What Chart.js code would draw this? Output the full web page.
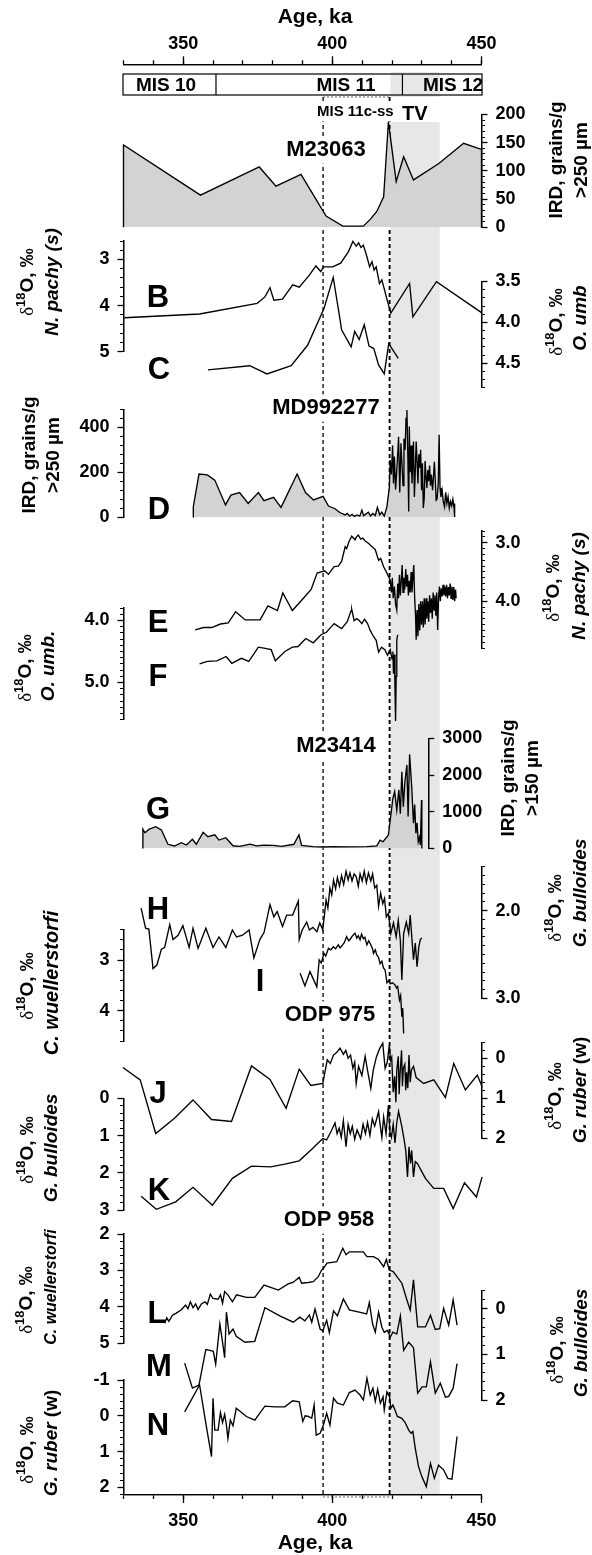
<!DOCTYPE html>
<html>
<head>
<meta charset="utf-8">
<script src="https://cdn.jsdelivr.net/npm/chart.js@4.4.1/dist/chart.umd.min.js"></script>
<style>
  html, body { margin: 0; padding: 0; background: #fff; }
  #fig { position: relative; width: 592px; height: 1555px; overflow: hidden; }
  #fig canvas { position: absolute; left: 0; }
</style>
</head>
<body>
<div id="fig"></div>
<script>
// ---- figure layout ----
const FONT = '"Liberation Sans", Arial, Helvetica, sans-serif';
const AGE_MIN = 330, AGE_MAX = 450;
const X_LEFT = 123.5, X_RIGHT = 481.5;

// age axis + stage markers
const ageTicks = [350, 400, 450];
const ageMinor = [330, 340, 350, 360, 370, 380, 390, 400, 410, 420, 430, 440, 450];
const misBounds = [330, 361, 423.5, 450];
const misNames = ['MIS 10', 'MIS 11', 'MIS 12'];
const ssLines = [396.9, 419.2];       // MIS 11c-ss dashed lines
const tvBand = [419.5, 436];          // TV shading

// ---- data, [age ka, value] ----
// A  M23063 IRD >250 µm
const aData = [[330,0],[330,146],[355.8,57],[375.5,107],[381.1,73],[389.5,94],[397.9,20],[403.5,2],[410.4,2],[412.7,14],[414.9,28],[417.2,54],[418.8,187],[421.4,81],[423.9,125],[427.2,84],[435.7,113],[444,149],[450,138],[450,0]];
// B  M23063 d18O N. pachy (s)
const bData = [[330.3,4.26],[355.5,4.18],[374.8,3.95],[377.4,3.81],[379.1,3.61],[380.4,3.88],[383.3,3.86],[386.7,3.55],[388.9,3.60],[392.3,3.34],[394.5,3.14],[396.1,3.26],[397,3.16],[400.1,3.16],[402.8,3.08],[405.4,2.83],[406.9,2.61],[408,2.71],[408.8,2.64],[409.6,2.74],[410.4,2.69],[411.6,2.94],[412.5,3.16],[413.3,3.05],[414,3.23],[414.7,3.16],[415.8,3.52],[416.6,3.44],[418.1,3.81],[419.6,4.16],[425.9,3.52],[427,4.24],[434.9,3.48],[450,4.15]];
// C  M23063 d18O O. umb
const cData = [[358.3,4.58],[372.3,4.53],[378.1,4.63],[386.2,4.53],[391.7,4.28],[397.2,3.83],[400.3,3.45],[402.6,3.97],[403.1,4.09],[406.3,4.30],[407.5,4.11],[409,4.21],[410.7,4.03],[412.3,4.29],[413.9,4.32],[415.5,4.52],[417.4,4.63],[418.9,4.26],[422.1,4.44]];
// D  MD992277 IRD >250 µm
const dData = [[353.3,0],[353.4,46],[355.3,192],[358.1,188],[360.6,165],[364.2,54],[366,98],[368.9,109],[371.8,61],[375.2,109],[377.1,73],[380.3,88],[382.8,43],[388.2,192],[391,109],[393.7,76],[396.9,92],[398.7,49],[400.9,37],[402.5,20],[404.3,9],[405,16],[405.8,4],[406.6,12],[407.4,3],[408.3,9],[409.2,4],[409.9,31],[410.5,6],[411.3,14],[412.1,21],[412.8,5],[413.6,16],[414.4,7],[415.1,43],[415.9,10],[416.6,22],[417.4,4],[418.3,46],[419.1,130],[419.4,255],[419.8,190],[420.2,320],[420.5,150],[420.8,270],[421.2,123],[421.6,210],[422,300],[422.2,359],[422.6,110],[423,330],[423.3,250],[423.7,140],[424,350],[424.4,300],[424.7,441],[425,478],[425.3,280],[425.6,25],[425.8,404],[426.1,200],[426.4,320],[426.7,150],[427,260],[427.2,337],[427.5,90],[427.8,200],[428.1,337],[428.4,250],[428.7,150],[429,280],[429.3,220],[429.6,300],[429.9,120],[430.2,240],[430.5,40],[430.8,84],[431.1,250],[431.4,180],[431.7,130],[432,210],[432.3,160],[432.6,230],[432.9,140],[433.2,190],[433.6,120],[434,200],[434.2,247],[434.5,170],[434.8,75],[435.1,80],[435.5,150],[435.8,367],[436.1,130],[436.4,90],[436.8,120],[437.2,70],[437.6,46],[438,110],[438.4,60],[438.8,90],[439.2,40],[439.6,70],[440,50],[440.4,80],[440.8,40],[441,60],[441,0]];
// E  MD992277 d18O N. pachy (s)
const eData = [[354,4.49],[356.8,4.45],[359.6,4.45],[362.5,4.39],[365.1,4.37],[367.6,4.18],[370.8,4.32],[375.8,4.32],[378.4,4.08],[381.6,4.16],[383.4,3.86],[386.6,4.16],[389.8,3.98],[392.9,3.80],[394.9,3.52],[397.4,3.48],[398.7,3.54],[400.6,3.41],[402,3.40],[403.1,3.32],[404.3,3.07],[404.8,3.10],[405.6,2.98],[406.5,2.89],[407.6,2.95],[408.1,2.90],[408.7,2.87],[409.5,2.94],[410.2,2.92],[411,2.97],[411.9,3.00],[412.7,3.04],[413.6,3.08],[414.4,3.12],[415,3.22],[415.5,3.30],[416.2,3.27],[417.2,3.41],[418.3,3.52],[419.4,3.64],[419.8,3.85],[420.1,3.60],[420.4,3.95],[420.8,3.75],[421.2,4.05],[421.6,4.15],[421.9,3.70],[422.2,3.95],[422.5,3.55],[422.8,3.90],[423.1,3.65],[423.4,3.38],[423.7,3.85],[424,3.60],[424.3,3.80],[424.6,3.45],[424.9,3.75],[425.2,3.55],[425.5,3.90],[425.8,3.65],[426.1,3.85],[426.4,3.50],[426.7,3.85],[427,3.60],[427.3,3.38],[427.6,3.95],[427.9,4.25],[428.1,4.66],[428.4,4.15],[428.7,4.60],[429,4.05],[429.3,4.50],[429.6,4.00],[429.9,4.40],[430.2,4.00],[430.5,4.45],[430.8,3.95],[431.1,4.40],[431.4,3.95],[431.7,4.30],[432,4.00],[432.3,4.35],[432.6,3.90],[432.9,4.20],[433.2,3.95],[433.5,4.30],[433.8,3.85],[434.1,4.15],[434.4,3.90],[434.7,4.25],[435,3.85],[435.3,4.49],[435.6,3.95],[435.9,3.75],[436.2,4.00],[436.5,3.78],[436.8,3.92],[437.1,3.72],[437.4,3.90],[437.7,3.75],[438,3.92],[438.3,3.72],[438.6,3.95],[438.9,3.76],[439.2,3.90],[439.5,3.70],[439.8,3.95],[440.1,3.75],[440.4,3.98],[440.7,3.76],[441,4.00],[441.3,3.80],[441.5,3.95]];
// F  MD992277 d18O O. umb.
const fData = [[355.5,4.70],[358.1,4.66],[361.3,4.65],[364.4,4.58],[366.3,4.69],[369.5,4.61],[372,4.66],[375.2,4.43],[377.5,4.45],[379.5,4.47],[380.9,4.65],[384.1,4.50],[386.6,4.43],[388.5,4.42],[391.1,4.29],[393.6,4.36],[396.2,4.23],[398,4.19],[400.6,4.05],[403.1,4.13],[405,4.02],[406.3,3.84],[406.5,3.82],[407.3,4.00],[408.2,3.97],[409,4.00],[409.9,4.05],[410.8,3.98],[411.8,4.05],[412.7,4.16],[413.7,4.25],[414.7,4.32],[415.5,4.51],[416.5,4.43],[417.6,4.47],[418.5,4.56],[419.4,4.47],[420,4.62],[420.3,4.50],[420.5,4.86],[420.8,4.55],[421,5.10],[421.2,5.62],[421.4,4.90],[421.6,4.32],[421.9,4.23]];
// G  M23414 IRD >150 µm
const gData = [[336.5,0],[336.5,524],[337.2,430],[338.5,520],[340.8,595],[342.7,505],[344.9,115],[347.1,68],[349.4,158],[351.1,95],[353.1,250],[354.4,115],[356.7,440],[358.3,320],[360.6,375],[362,230],[364.3,295],[366.7,75],[369,60],[372.4,120],[374.6,70],[377,90],[380.2,85],[383,60],[387.1,115],[388.8,370],[389.7,85],[393.6,50],[397,40],[400.4,50],[405,45],[411.6,50],[414.9,70],[416,230],[417,185],[418.8,370],[419.6,900],[420.3,1370],[420.9,1550],[421.6,1050],[422.3,1600],[422.8,950],[423.3,2090],[423.8,1140],[424.3,1800],[425,2280],[425.4,870],[425.9,2570],[426.6,1690],[427.2,690],[427.6,1200],[428,415],[428.4,700],[428.8,185],[429.2,300],[429.5,95],[429.9,1320],[430,0]];
// H  ODP 975 d18O G. bulloides
const hData = [[335.9,1.97],[337.4,2.20],[338.5,2.21],[339.9,2.66],[341.2,2.62],[342.7,2.44],[343.8,2.42],[345.5,2.16],[346.6,2.33],[348.3,2.28],[349.9,2.17],[352,2.42],[353.3,2.20],[355,2.43],[357.6,2.20],[360,2.42],[362,2.30],[364.3,2.42],[366.5,2.22],[367.9,2.30],[369.9,2.28],[372.1,2.22],[373.7,2.54],[375.7,2.33],[377.1,2.25],[379.1,1.93],[380.4,2.07],[381.5,2.01],[383.3,2.18],[384.7,2.05],[386.7,2.05],[388.6,1.89],[388.9,2.33],[389.9,2.22],[391.4,2.13],[392.3,2.22],[393.5,2.19],[394.8,2.24],[395.8,2.14],[396.8,2.22],[397.9,1.88],[398.5,1.97],[399.2,1.74],[399.8,1.82],[400.4,1.65],[401.1,1.75],[401.7,1.62],[402.4,1.72],[403.1,1.60],[403.8,1.70],[404.6,1.55],[405.3,1.65],[405.9,1.57],[406.6,1.66],[407.3,1.58],[408,1.61],[408.7,1.72],[409.3,1.58],[410,1.66],[410.7,1.55],[411.4,1.68],[412.1,1.57],[412.9,1.66],[413.5,1.58],[414.2,1.74],[414.9,1.71],[415.5,1.95],[416.2,1.80],[416.9,1.92],[417.5,1.86],[418.1,2.07],[418.8,2.03],[419.6,2.26],[420.5,2.14],[421.4,2.30],[422.1,2.11],[422.8,2.34],[423.3,2.79],[423.9,2.26],[424.8,2.13],[425.6,2.26],[426.1,2.05],[426.7,2.33],[427.2,2.56],[427.8,2.37],[428.4,2.64],[429,2.41],[429.5,2.33],[430,2.31]];
// I  ODP 975 d18O C. wuellerstorfi
const iData = [[389.2,3.26],[390.8,3.51],[392.5,3.23],[394.8,3.53],[395.6,3.00],[396.3,3.06],[397.2,2.87],[397.8,2.92],[398.7,2.77],[399.5,2.80],[400.3,2.74],[401.1,2.78],[402,2.70],[402.6,2.76],[403.2,2.72],[404,2.66],[404.8,2.54],[405.5,2.62],[406.1,2.58],[406.8,2.52],[407.6,2.47],[408.2,2.57],[408.7,2.52],[409.3,2.60],[409.8,2.49],[410.4,2.58],[410.9,2.55],[411.6,2.70],[412.2,2.62],[412.9,2.70],[413.5,2.78],[413.8,2.87],[414.4,2.80],[414.9,2.90],[415.5,2.95],[416,3.07],[416.6,3.02],[417.1,3.15],[417.7,3.20],[418.3,3.45],[418.9,3.40],[419.4,3.47],[420.2,3.45],[421,3.49],[421.5,3.55],[421.9,3.52],[422.5,3.79],[422.9,3.70],[423.3,4.12],[423.6,3.95],[423.9,4.45]];
// J  ODP 975 d18O G. ruber (w)
const jData = [[329.8,0.23],[335.6,0.54],[340.8,1.88],[347.1,1.50],[353.3,1.04],[359.5,1.53],[366.2,1.58],[372.9,0.19],[379.1,0.53],[384.5,1.25],[388.9,0.27],[392.8,0.68],[396.8,0.63],[398.3,0.04],[399.3,0.13],[400.4,-0.08],[401.5,-0.15],[402.6,-0.25],[403.7,-0.10],[404.5,-0.20],[405.3,0.00],[406.1,-0.08],[406.9,0.25],[407.5,0.10],[408,0.63],[408.8,0.20],[409.9,0.43],[411,-0.05],[411.8,0.30],[412.9,0.75],[413.7,0.30],[414.8,-0.04],[415.9,-0.25],[416.9,-0.38],[417.7,0.25],[418.4,0.10],[419.1,-0.33],[419.5,0.05],[419.9,-0.03],[420.4,0.85],[420.9,0.45],[421.3,1.10],[421.6,0.30],[422.1,-0.05],[422.4,0.90],[422.7,0.40],[423.2,-0.20],[423.5,0.70],[423.8,0.25],[424.3,0.15],[424.6,0.80],[424.9,0.35],[425.3,0.75],[425.7,-0.08],[426.1,0.60],[426.5,0.30],[427.2,0.20],[428.1,0.48],[430.6,0.63],[434,0.54],[437.9,0.98],[440.7,0.13],[444.6,0.79],[448.6,0.42],[450.2,0.71]];
// K  ODP 975 d18O G. bulloides
const kData = [[335.9,2.63],[341,2.98],[347.5,2.78],[353.3,2.39],[359.8,2.87],[366.5,2.15],[372.9,1.82],[379.3,1.84],[384.1,1.77],[388.9,1.68],[393.1,1.37],[396.8,1.08],[398.1,1.12],[399.8,0.85],[400.9,0.66],[401.6,0.95],[402.3,0.80],[403,1.05],[403.7,0.60],[404.6,1.30],[405.3,0.70],[406,0.95],[406.7,0.75],[407.5,1.10],[408.3,0.85],[409.5,1.08],[410.3,0.70],[411.1,0.95],[411.8,0.65],[412.6,1.00],[413.4,0.55],[414.2,0.75],[415.5,0.36],[416,0.70],[416.6,1.05],[417.2,0.50],[418,0.95],[418.8,0.18],[419.3,0.90],[419.8,1.05],[420.4,0.70],[421,1.20],[421.6,0.65],[422.2,0.35],[423.3,0.76],[424,1.08],[424.6,1.40],[425.2,2.11],[425.7,1.30],[426.2,1.75],[426.6,1.40],[427.2,2.11],[427.8,1.70],[428.5,1.75],[431.2,2.15],[434,2.42],[437.3,2.42],[440.5,2.96],[444.3,2.27],[448.3,2.65],[450.2,2.11]];
// L  ODP 958 d18O C. wuellerstorfi
const lData = [[343.8,4.45],[344.5,4.30],[345.2,4.40],[346.4,4.23],[347.7,4.17],[349.4,4.08],[350.8,3.95],[351.6,4.05],[352.4,3.86],[353.3,4.02],[354.2,3.92],[355,4.07],[356.1,3.92],[357.3,3.86],[358.1,3.93],[359.1,3.65],[360,3.77],[361.7,3.79],[362.5,3.67],[363.2,3.90],[363.9,3.58],[365,3.67],[366.5,3.86],[367.9,3.67],[371.2,3.74],[374,3.74],[377.1,3.40],[381.9,3.54],[385.2,3.37],[386.8,3.33],[388.9,3.19],[389.7,3.35],[391.9,3.33],[393.6,3.31],[395.3,3.17],[396.4,2.99],[397,2.95],[398.2,2.80],[401.5,2.76],[403.5,2.39],[404.6,2.57],[405.7,2.49],[410.4,2.49],[411.6,2.62],[413.8,2.62],[415.5,2.70],[417.2,2.90],[418.1,2.70],[419.1,2.99],[420.4,3.03],[423.3,3.35],[425,3.81],[426.1,4.09],[427.2,3.26],[428.6,4.55],[431.2,4.55],[432.9,4.23],[434.5,4.62],[436,4.60],[437.3,4.04],[439,4.50],[440.5,3.81],[441.8,4.50]];
// M  ODP 958 d18O G. bulloides
const mData = [[350.5,1.19],[353.1,1.74],[355.3,1.67],[357.6,0.89],[359,0.91],[360.1,0.93],[360.9,1.21],[362.3,0.33],[363.2,0.73],[363.9,1.07],[364.5,0.07],[365.4,0.55],[366.7,0.44],[367.8,0.60],[370.7,0.73],[374,0.71],[377.4,-0.03],[382.4,0.15],[386.9,0.29],[389.1,0.18],[390.8,0.26],[392.3,0.13],[393.1,0.29],[394.2,0.00],[395.9,0.44],[396.8,0.48],[398.1,0.25],[399,0.52],[400.4,0.04],[401.7,0.15],[403.7,-0.22],[405.7,0.02],[409,0.07],[411.5,0.11],[412.4,-0.14],[413.5,0.33],[414.4,0.51],[415.5,0.07],[416.6,0.40],[417.4,0.51],[418.5,0.47],[419.4,0.62],[420.3,0.51],[421.6,0.55],[422.8,0.15],[423.9,0.91],[425.6,0.73],[427.2,0.85],[428.6,1.85],[430.1,1.71],[431.5,1.71],[432.9,1.16],[434.5,1.85],[436.2,1.63],[437.9,1.94],[439,1.92],[440.5,1.74],[441.8,1.20]];
// N  ODP 958 d18O G. ruber (w)
const nData = [[350.5,-0.11],[355.5,-0.86],[357.6,0.21],[359.5,1.14],[360,-0.49],[360.6,0.40],[361.7,0.40],[362.5,-0.09],[363.2,0.19],[363.9,-0.04],[364.5,0.26],[365,0.63],[365.8,0.12],[366.7,0.28],[367.8,-0.21],[371.2,0.02],[374,0.12],[377.4,-0.27],[380.7,-0.25],[384.1,-0.25],[386.7,-0.42],[388.9,-0.39],[390.1,0.16],[390.9,0.00],[392,0.02],[393.1,0.07],[393.9,-0.30],[394.6,0.54],[395.9,0.49],[397,0.26],[398.1,-0.07],[399.2,0.26],[400.4,-0.49],[401.7,-0.35],[403.7,-0.30],[405.7,-0.65],[407.6,-0.72],[409.3,-0.58],[410.4,-0.44],[411.6,-1.05],[412.7,-0.58],[413.6,-0.77],[414.4,-0.40],[415.2,-0.74],[416.1,-0.35],[417,-0.53],[417.4,-0.16],[418.3,-0.67],[419.2,-0.53],[419.6,-0.21],[420.3,-0.30],[421,-0.16],[421.8,0.02],[423.3,0.07],[424.4,0.19],[425.6,0.40],[426.4,0.49],[427,0.44],[427.8,0.91],[428.9,1.42],[430,1.70],[431.5,1.98],[432.9,1.33],[434.2,1.75],[435.6,1.38],[437.3,1.51],[438.7,1.75],[440.1,1.77],[441.8,0.58]];

// y tick labels per panel
const aTicks = [0, 50, 100, 150, 200];
const bTicks = [3, 4, 5];
const cTicks = [3.5, 4.0, 4.5];
const dTicks = [0, 200, 400];
const eTicks = [3.0, 4.0];
const fTicks = [4.0, 5.0];
const gTicks = [0, 1000, 2000, 3000];
const hTicks = [2.0, 3.0];
const iTicks = [3, 4];
const jTicks = [0, 1, 2];
const kTicks = [0, 1, 2, 3];
const lTicks = [2, 3, 4, 5];
const mTicks = [0, 1, 2];
const nTicks = [-1, 0, 1, 2];

// ---- helpers ----
const fig = document.getElementById('fig');

function addCanvas(top, height) {
  const c = document.createElement('canvas');
  c.width = 592;
  c.height = height;
  c.style.top = top + 'px';
  fig.appendChild(c);
  return c;
}

function steps(from, to, step) {
  const out = [];
  const n = Math.round((to - from) / step);
  for (let i = 0; i <= n; i++) out.push(+(from + i * step).toFixed(4));
  return out;
}

const pts = arr => arr.map(([x, y]) => ({ x, y }));
const boldFont = size => ({ family: FONT, size, weight: 'bold' });

function txt(ctx, s, x, y, size, opts = {}) {
  ctx.font = 'bold ' + size + 'px ' + FONT;
  ctx.textAlign = opts.align || 'center';
  ctx.textBaseline = 'middle';
  if (opts.bg) {
    const w = ctx.measureText(s).width;
    const x0 = opts.align === 'left' ? x : x - w / 2;
    ctx.fillStyle = '#fff';
    ctx.fillRect(x0 - 3, y - size * 0.62, w + 6, size * 1.24);
  }
  ctx.fillStyle = '#000';
  ctx.fillText(s, x, y);
}

// rotated axis title built from styled runs
function vtitle(ctx, runs, cx, cy, size) {
  const fontOf = st => st === 'i' ? 'italic bold ' + size + 'px ' + FONT
    : st === 'sup' ? 'bold ' + Math.round(size * 0.7) + 'px ' + FONT
    : st === 'sym' ? size + 'px "Liberation Serif", serif'
    : 'bold ' + size + 'px ' + FONT;
  ctx.save();
  ctx.translate(cx, cy);
  ctx.rotate(-Math.PI / 2);
  let total = 0;
  runs.forEach(([t, st]) => { ctx.font = fontOf(st); total += ctx.measureText(t).width; });
  let x = -total / 2;
  ctx.textAlign = 'left';
  ctx.textBaseline = 'middle';
  ctx.fillStyle = '#000';
  runs.forEach(([t, st]) => {
    ctx.font = fontOf(st);
    ctx.fillText(t, x, st === 'sup' ? -size * 0.33 : 0);
    x += ctx.measureText(t).width;
  });
  ctx.restore();
}

const D18O = [['δ', 'sym'], ['18', 'sup'], ['O, ‰', 'b']];
const titles = [
  [[['IRD, grains/g', 'b']], 557, 160, 19], [[['>250 µm', 'b']], 582, 160, 19],
  [D18O, 28, 282, 19], [[['N. pachy (s)', 'i']], 53, 282, 19],
  [D18O, 557, 322, 19], [[['O. umb', 'i']], 581, 318, 19],
  [[['IRD, grains/g', 'b']], 30, 455, 19], [[['>250 µm', 'b']], 54, 455, 19],
  [D18O, 554, 588, 19], [[['N. pachy (s)', 'i']], 580, 586, 19],
  [D18O, 26, 668, 19], [[['O. umb.', 'i']], 49, 666, 19],
  [[['IRD, grains/g', 'b']], 509, 778, 19], [[['>150 µm', 'b']], 533, 778, 19],
  [D18O, 556, 908, 19], [[['G. bulloides', 'i']], 581, 893, 19],
  [D18O, 28, 986, 19], [[['C. wuellerstorfi', 'i']], 52, 983, 20],
  [D18O, 556, 1096, 19], [[['G. ruber', 'i'], [' (w)', 'b']], 581, 1090, 19],
  [D18O, 28, 1150, 19], [[['G. bulloides', 'i']], 52, 1148, 19],
  [D18O, 27, 1300, 19], [[['C. wuellerstorfi', 'i']], 52, 1287, 16],
  [D18O, 558, 1350, 19], [[['G. bulloides', 'i']], 582, 1343, 19],
  [D18O, 28, 1450, 19], [[['G. ruber', 'i'], [' (w)', 'b']], 52, 1443, 19]
];

const letters = [['A',159,192],['B',158,298],['C',159,370],['D',159,510],['E',158,623],['F',158,677],['G',158,810],
  ['H',158,910],['I',260,982],['J',158,1094],['K',159,1191],['L',157,1314],['M',159,1367],['N',158,1426]];
const stations = [['M23063',326,150],['MD992277',326,408],['M23414',336,746],['ODP 975',330,1015],['ODP 958',329,1220]];

// ---- frame: age axes, shading, dashed lines and all annotation text ----
const framePlugin = {
  id: 'frame',
  beforeDraw(chart) {
    const ctx = chart.ctx, px = v => chart.scales.x.getPixelForValue(v);
    const bottom = chart.chartArea.bottom;
    ctx.save();
    ctx.fillStyle = '#e6e7e8';
    const b0 = px(tvBand[0]), b1 = px(tvBand[1]);
    ctx.fillRect(b0, 72, b1 - b0, 25);
    ctx.fillRect(b0, 122, b1 - b0, bottom - 122);
    ctx.strokeStyle = '#000';
    ctx.setLineDash([4, 3]);
    [[ssLines[0], 1.3], [ssLines[1], 1.9]].forEach(([a, w]) => {
      ctx.lineWidth = w;
      ctx.beginPath();
      ctx.moveTo(px(a), 97);
      ctx.lineTo(px(a), bottom);
      ctx.stroke();
    });
    ctx.setLineDash([2, 2]);
    ctx.lineWidth = 1;
    ctx.strokeStyle = '#666';
    [97, bottom + 2].forEach(y => {
      ctx.beginPath();
      ctx.moveTo(px(ssLines[0]), y);
      ctx.lineTo(px(ssLines[1]), y);
      ctx.stroke();
    });
    ctx.restore();
  },
  afterDraw(chart) {
    const ctx = chart.ctx, px = v => chart.scales.x.getPixelForValue(v);
    ctx.save();
    // MIS stage box
    ctx.strokeStyle = '#000';
    ctx.lineWidth = 1.2;
    ctx.strokeRect(px(misBounds[0]) - 0.5, 74, px(misBounds[3]) - px(misBounds[0]) + 1, 21);
    [misBounds[1], misBounds[2]].forEach(a => {
      ctx.beginPath(); ctx.moveTo(px(a), 74); ctx.lineTo(px(a), 95); ctx.stroke();
    });
    txt(ctx, misNames[0], 166, 86, 19);
    txt(ctx, misNames[1], 346, 86, 19);
    txt(ctx, misNames[2], 453, 86, 19);
    txt(ctx, 'MIS 11c-ss', 317, 112, 15, { align: 'left', bg: true });
    txt(ctx, 'TV', 402, 114, 20, { align: 'left' });
    txt(ctx, 'Age, ka', 315, 17, 21);
    txt(ctx, 'Age, ka', 315, 1543, 21);
    stations.forEach(([s, x, y]) => txt(ctx, s, x, y, 22, { bg: true }));
    letters.forEach(([s, x, y]) => txt(ctx, s, x, y, 31));
    titles.forEach(([runs, cx, cy, size]) => vtitle(ctx, runs, cx, cy, size));
    ctx.restore();
  }
};

const ageAxis = (pos, weight, height, values, len, labels, pad) => ({
  type: 'linear', position: pos, min: AGE_MIN, max: AGE_MAX, weight, bounds: 'data',
  afterFit: s => { s.height = height; },
  afterBuildTicks: s => { s.ticks = values.map(v => ({ value: v })); },
  ticks: { display: labels, autoSkip: false, maxRotation: 0, padding: pad, color: '#000', font: boldFont(18) },
  grid: { drawOnChartArea: false, tickLength: len, tickColor: '#000', tickWidth: 1.3 },
  border: { color: '#000', width: 1.3 }
});

new Chart(addCanvas(0, 1555), {
  type: 'line',
  data: { datasets: [] },
  options: {
    responsive: false, animation: false, events: [],
    layout: { padding: { left: X_LEFT, right: 592 - X_RIGHT, top: 0, bottom: 0 } },
    plugins: { legend: { display: false }, tooltip: { enabled: false } },
    scales: {
      xt: ageAxis('top', 1, 64.3, ageTicks, 8, true, 1),
      xtm: ageAxis('top', 0, 0, ageMinor, 4, false, 0),
      x: ageAxis('bottom', 1, 60, ageTicks, 8, true, 7),
      xm: ageAxis('bottom', 0, 0, ageMinor, 4, false, 0),
      y: { display: false, min: 0, max: 1 }
    }
  },
  plugins: [framePlugin]
});

// ---- one chart per y axis ----
const panels = [
  { side: 'right', axisX: 481.5, pxTop: 114.5, pxBot: 227.3, vTop: 200, vBot: 0, majors: aTicks, minor: 10, dec: 0, data: aData, fill: true },
  { side: 'left', axisX: 123.5, pxTop: 241, pxBot: 351.9, vTop: 2.6, vBot: 5, majors: bTicks, minor: 0.2, dec: 0, data: bData },
  { side: 'right', axisX: 481.5, pxTop: 281.5, pxBot: 387.8, vTop: 3.5, vBot: 4.8, majors: cTicks, minor: 0.1, dec: 1, data: cData },
  { side: 'left', axisX: 123.5, pxTop: 409.6, pxBot: 517, vTop: 480, vBot: 0, majors: dTicks, minor: 40, dec: 0, data: dData, fill: true },
  { side: 'right', axisX: 481.5, pxTop: 531, pxBot: 648, vTop: 2.8, vBot: 4.8, majors: eTicks, minor: 0.1, dec: 1, data: eData },
  { side: 'left', axisX: 123.5, pxTop: 608.1, pxBot: 719.7, vTop: 3.8, vBot: 5.6, majors: fTicks, minor: 0.1, dec: 1, data: fData },
  { side: 'right', axisX: 428.3, pxTop: 738.5, pxBot: 848.5, vTop: 3000, vBot: 0, majors: gTicks, minor: 1000, dec: 0, data: gData, fill: true },
  { side: 'right', axisX: 481.5, pxTop: 866.9, pxBot: 998.3, vTop: 1.5, vBot: 3.0, majors: hTicks, minor: 0.1, dec: 1, data: hData },
  { side: 'left', axisX: 123.5, pxTop: 929.6, pxBot: 1041.1, vTop: 2.4, vBot: 4.6, majors: iTicks, minor: 0.2, dec: 0, data: iData },
  { side: 'right', axisX: 481.5, pxTop: 1042.3, pxBot: 1138.3, vTop: -0.4, vBot: 2, majors: jTicks, minor: 0.2, dec: 0, data: jData },
  { side: 'left', axisX: 123.5, pxTop: 1098.3, pxBot: 1210, vTop: 0, vBot: 3, majors: kTicks, minor: 0.2, dec: 0, data: kData },
  { side: 'left', axisX: 123.5, pxTop: 1234, pxBot: 1343.3, vTop: 2, vBot: 5, majors: lTicks, minor: 0.2, dec: 0, data: lData },
  { side: 'right', axisX: 481.5, pxTop: 1290.8, pxBot: 1400, vTop: -0.4, vBot: 2, majors: mTicks, minor: 0.2, dec: 0, data: mData },
  { side: 'left', axisX: 123.5, pxTop: 1380, pxBot: 1494.5, vTop: -1, vBot: 2.2, majors: nTicks, minor: 0.2, dec: 0, data: nData }
];

const AXIS_W = 60;
const PX_PER_KA = (X_RIGHT - X_LEFT) / (AGE_MAX - AGE_MIN);

panels.forEach(p => {
  const top = Math.floor(p.pxTop) - 30;
  const h = Math.ceil(p.pxBot) + 30 - top;
  const left = p.side === 'left';
  const right = left ? X_RIGHT : p.axisX;
  const rev = p.vTop < p.vBot;
  const min = Math.min(p.vTop, p.vBot), max = Math.max(p.vTop, p.vBot);
  const base = { type: 'linear', position: p.side, min, max, reverse: rev, bounds: 'data' };
  const minors = steps(min, max, p.minor);

  new Chart(addCanvas(top, h), {
    type: 'line',
    data: {
      datasets: [{
        data: pts(p.data),
        borderColor: '#000',
        borderWidth: 1.35,
        pointRadius: 0,
        tension: 0,
        clip: false,
        fill: p.fill ? 'origin' : false,
        backgroundColor: '#d1d3d4'
      }]
    },
    options: {
      responsive: false, animation: false, events: [],
      layout: {
        padding: {
          top: p.pxTop - top,
          bottom: top + h - p.pxBot,
          left: left ? p.axisX - AXIS_W : X_LEFT,
          right: left ? 592 - X_RIGHT : 592 - p.axisX - AXIS_W
        }
      },
      plugins: { legend: { display: false }, tooltip: { enabled: false } },
      scales: {
        x: { type: 'linear', min: AGE_MIN, max: AGE_MIN + (right - X_LEFT) / PX_PER_KA, display: false },
        y: {
          ...base, weight: 1,
          afterFit: s => { s.width = AXIS_W; },
          afterBuildTicks: s => { s.ticks = p.majors.map(v => ({ value: v })); },
          ticks: { color: '#000', padding: 8, autoSkip: false, font: boldFont(18), callback: v => v.toFixed(p.dec) },
          grid: { drawOnChartArea: false, tickLength: 6, tickColor: '#000', tickWidth: 1.3 },
          border: { color: '#000', width: 1.3 }
        },
        yMinor: {
          ...base, weight: 0,
          afterFit: s => { s.width = 0; },
          afterBuildTicks: s => { s.ticks = minors.map(v => ({ value: v })); },
          ticks: { display: false },
          grid: { drawOnChartArea: false, tickLength: 3.5, tickColor: '#000', tickWidth: 1 },
          border: { color: '#000', width: 1.3 }
        }
      }
    }
  });
});
</script>
</body>
</html>
